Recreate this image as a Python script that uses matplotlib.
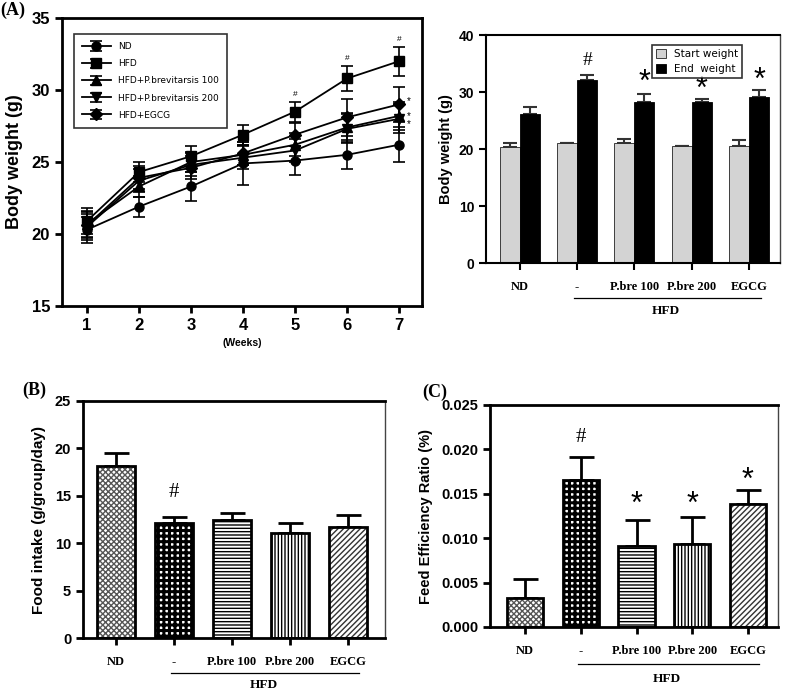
import matplotlib
matplotlib.use('Agg')
import matplotlib.pyplot as plt
import matplotlib.transforms as mtransforms
import numpy as np

W, H = 787, 693

# ---- data ----
weeks = [1, 2, 3, 4, 5, 6, 7]
groups = ['ND', 'HFD', 'HFD+P.brevitarsis 100', 'HFD+P.brevitarsis 200', 'HFD+EGCG']
bw_nd = [20.3, 21.9, 23.3, 24.9, 25.1, 25.5, 26.2]
bw_hfd = [20.9, 24.3, 25.4, 26.9, 28.5, 30.8, 32.0]
bw_p100 = [20.7, 23.3, 25.0, 25.5, 26.2, 27.4, 28.2]
bw_p200 = [20.5, 23.7, 24.8, 25.3, 25.8, 27.3, 28.0]
bw_egcg = [20.6, 23.9, 24.6, 25.6, 26.9, 28.1, 29.0]
err_nd = [0.9, 0.7, 1.0, 1.5, 1.0, 1.0, 1.2]
err_hfd = [0.9, 0.7, 0.7, 0.7, 0.7, 0.9, 1.0]
err_p100 = [0.9, 0.7, 0.7, 0.7, 0.8, 1.0, 1.0]
err_p200 = [0.9, 0.8, 0.8, 0.8, 0.8, 1.0, 1.0]
err_egcg = [0.9, 0.8, 0.8, 0.8, 0.8, 1.3, 1.2]
markers = ['o', 's', '^', 'v', 'D']

cats = ['ND', '-', 'P.bre 100', 'P.bre 200', 'EGCG']
start_w = [20.3, 21.0, 21.0, 20.6, 20.6]
start_err = [0.7, 0.1, 0.8, 0.0, 1.0]
end_w = [26.2, 32.1, 28.2, 28.2, 29.1]
end_err = [1.2, 0.9, 1.5, 0.6, 1.2]

food = [18.1, 12.1, 12.5, 11.1, 11.7]
food_err = [1.4, 0.7, 0.7, 1.0, 1.3]

fer = [0.0033, 0.0166, 0.0091, 0.0093, 0.0138]
fer_err = [0.0021, 0.0025, 0.0029, 0.0031, 0.0016]

hatches = ['xxxxxx', '+++', '-----', '|||||', '//////']
hatch_cols = ['#555555', 'black', 'black', 'black', '#333333']
hatch_lws = [1.0, 2.2, 1.0, 1.0, 1.0]

sans = 'Liberation Sans'
serif = 'Liberation Serif'


def rect(l, t, r, b):
    return [l / W, 1 - b / H, (r - l) / W, (b - t) / H]


def style_axes(ax, lw=2):
    for s in ['left', 'bottom', 'top']:
        ax.spines[s].set_linewidth(lw)
    ax.spines['right'].set_linewidth(1)
    ax.spines['right'].set_color('#444444')
    ax.tick_params(axis='both', width=lw, length=5, direction='out')
    ax.tick_params(axis='x', top=False)
    ax.tick_params(axis='y', right=False)


def cat_labels(ax, size=9):
    for lab in ax.get_xticklabels():
        lab.set_fontsize(size)
        lab.set_fontweight('bold')
        lab.set_fontfamily(serif)
    ax.tick_params(axis='x', pad=8)


def hfd_bracket(ax, y_line, y_txt, size):
    tr = mtransforms.blended_transform_factory(ax.transData, ax.transAxes)
    ax.plot([0.95, 4.2], [y_line, y_line], color='black', lw=0.9,
            transform=tr, clip_on=False)
    ax.text(2.55, y_txt, 'HFD', transform=tr, ha='center', va='center',
            fontsize=size, fontfamily=serif, fontweight='bold')


def hatched_bars(ax, xs, vals, width):
    for i in range(len(xs)):
        with plt.rc_context({'hatch.linewidth': hatch_lws[i]}):
            ax.bar(xs[i], vals[i], width, color='white', edgecolor=hatch_cols[i],
                   hatch=hatches[i], lw=0, zorder=2)
    ax.bar(xs, vals, width, fill=False, edgecolor='black', lw=2, zorder=3)


fig = plt.figure(figsize=(W / 100, H / 100), dpi=100)

# ---- (A) left: body weight over weeks ----
ax1 = fig.add_axes(rect(62, 18, 422, 306))
series = [bw_nd, bw_hfd, bw_p100, bw_p200, bw_egcg]
errs = [err_nd, err_hfd, err_p100, err_p200, err_egcg]
for name, ys, es, m in zip(groups, series, errs, markers):
    ax1.errorbar(weeks, ys, yerr=es, color='black', marker=m, markersize=6.5,
                 lw=1.3, elinewidth=1.2, capsize=4, capthick=1.2, label=name)
ax1.set_xlim(0.52, 7.44)
ax1.set_ylim(15, 35)
ax1.set_yticks([15, 20, 25, 30, 35])
ax1.set_xticks(weeks)
style_axes(ax1)
ax1.spines['right'].set_linewidth(2)
ax1.spines['right'].set_color('black')
for lab in ax1.get_xticklabels() + ax1.get_yticklabels():
    lab.set_fontsize(12)
    lab.set_fontweight('bold')
    lab.set_fontfamily(sans)
ax1.set_ylabel('Body weight (g)', fontsize=13, fontweight='bold',
               fontfamily=sans, labelpad=6)
ax1.set_xlabel('(Weeks)', fontsize=7.5, fontweight='bold', fontfamily=sans,
               labelpad=4)
leg = ax1.legend(loc='upper left', fontsize=6.5, frameon=True, fancybox=False,
                 edgecolor='black', borderpad=0.9, labelspacing=0.9,
                 handlelength=3.2, bbox_to_anchor=(0.02, 0.96))
leg.get_frame().set_linewidth(1.2)
for wk in [5, 6, 7]:
    ax1.text(wk, bw_hfd[wk - 1] + err_hfd[wk - 1] + 0.25, '#', ha='center',
             va='bottom', fontsize=6, fontfamily=sans)
for yv in [29.2, 28.2, 27.6]:
    ax1.text(7.15, yv, '*', ha='left', va='center', fontsize=7,
             fontfamily=sans)

# ---- (A) right: start / end weight ----
ax2 = fig.add_axes(rect(486, 35, 780, 263))
x = np.arange(len(cats))
bw = 0.35
ax2.bar(x - bw / 2, start_w, bw, color='#d3d3d3', edgecolor='#222222',
        lw=0.6, label='Start weight', zorder=2)
ax2.bar(x + bw / 2, end_w, bw, color='black', edgecolor='black',
        lw=0.6, label='End  weight', zorder=2)
ax2.errorbar(x - bw / 2, start_w, yerr=[np.zeros(5), start_err], fmt='none',
             ecolor='#333333', elinewidth=1.5, capsize=5, capthick=1.5, zorder=1)
ax2.errorbar(x + bw / 2, end_w, yerr=[np.zeros(5), end_err], fmt='none',
             ecolor='#333333', elinewidth=1.5, capsize=5, capthick=1.5, zorder=1)
ax2.set_xlim(-0.59, 4.54)
ax2.set_ylim(0, 40)
ax2.set_yticks([0, 10, 20, 30, 40])
ax2.set_xticks(x)
ax2.set_xticklabels(cats)
style_axes(ax2, lw=1.5)
for lab in ax2.get_yticklabels():
    lab.set_fontsize(10)
    lab.set_fontweight('bold')
    lab.set_fontfamily(sans)
cat_labels(ax2)
ax2.set_ylabel('Body weight (g)', fontsize=10.5, fontweight='bold',
               fontfamily=sans, labelpad=4)
leg2 = ax2.legend(loc='upper right', fontsize=7.5, frameon=True, fancybox=False,
                  edgecolor='black', handlelength=0.9, handleheight=0.9,
                  borderpad=0.4, bbox_to_anchor=(0.89, 0.98))
leg2.get_frame().set_linewidth(1.2)
ax2.text(1 + bw / 2, 35.5, '#', ha='center', va='center', fontsize=14,
         fontfamily=serif)
for i, yv in zip([2, 3, 4], [31.6, 30.4, 32.0]):
    ax2.text(i + bw / 2, yv, '*', ha='center', va='center', fontsize=22,
             fontfamily=sans)
hfd_bracket(ax2, -0.155, -0.21, 9.5)

# ---- (B) food intake ----
ax3 = fig.add_axes(rect(83, 401, 385, 638))
bw3 = 0.65
hatched_bars(ax3, x, food, bw3)
ax3.errorbar(x, food, yerr=[np.zeros(5), food_err], fmt='none', ecolor='black',
             elinewidth=2, capsize=9, capthick=2, zorder=1)
ax3.set_xlim(-0.57, 4.64)
ax3.set_ylim(0, 25)
ax3.set_yticks([0, 5, 10, 15, 20, 25])
ax3.set_xticks(x)
ax3.set_xticklabels(cats)
style_axes(ax3)
for lab in ax3.get_yticklabels():
    lab.set_fontsize(10.5)
    lab.set_fontweight('bold')
    lab.set_fontfamily(sans)
cat_labels(ax3)
ax3.set_ylabel('Food intake (g/group/day)', fontsize=11, fontweight='bold',
               fontfamily=sans, labelpad=6)
ax3.text(1, 15.4, '#', ha='center', va='center', fontsize=15, fontfamily=serif)
hfd_bracket(ax3, -0.148, -0.2, 9.5)

# ---- (C) feed efficiency ratio ----
ax4 = fig.add_axes(rect(490, 405, 778, 627))
hatched_bars(ax4, x, fer, bw3)
ax4.errorbar(x, fer, yerr=[np.zeros(5), fer_err], fmt='none', ecolor='black',
             elinewidth=2, capsize=9, capthick=2, zorder=1)
ax4.set_xlim(-0.63, 4.54)
ax4.set_ylim(0, 0.025)
ax4.set_yticks([0, 0.005, 0.010, 0.015, 0.020, 0.025])
ax4.set_yticklabels(['0.000', '0.005', '0.010', '0.015', '0.020', '0.025'])
ax4.set_xticks(x)
ax4.set_xticklabels(cats)
style_axes(ax4)
for lab in ax4.get_yticklabels():
    lab.set_fontsize(10.5)
    lab.set_fontweight('bold')
    lab.set_fontfamily(sans)
cat_labels(ax4)
ax4.set_ylabel('Feed Efficiency Ratio (%)', fontsize=10.5, fontweight='bold',
               fontfamily=sans, labelpad=6)
ax4.text(1, 0.0213, '#', ha='center', va='center', fontsize=15, fontfamily=serif)
for i, yv in zip([2, 3, 4], [0.0137, 0.0137, 0.0165]):
    ax4.text(i, yv, '*', ha='center', va='center', fontsize=22, fontfamily=sans)
hfd_bracket(ax4, -0.165, -0.235, 9.5)

# panel letters
for lbl, px, py in [('(A)', 0, 10), ('(B)', 22, 390), ('(C)', 422, 392)]:
    fig.text(px / W, 1 - py / H, lbl, fontsize=13, fontweight='bold',
             fontfamily=serif, ha='left', va='center')

fig.savefig('out.png', dpi=100)
